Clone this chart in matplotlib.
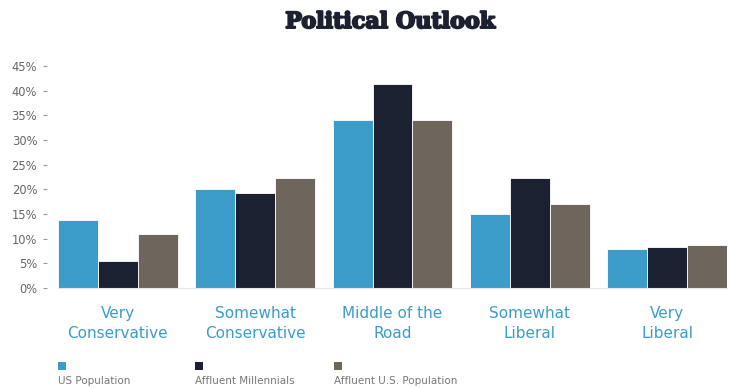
import matplotlib
matplotlib.use("Agg")
import matplotlib.pyplot as plt
from matplotlib.patches import Rectangle
import matplotlib.patheffects as pe
import numpy as np

categories = ["Very\nConservative", "Somewhat\nConservative", "Middle of the\nRoad",
              "Somewhat\nLiberal", "Very\nLiberal"]
series_names = ["US Population", "Affluent Millennials", "Affluent U.S. Population"]
us_population = [13.8, 20.1, 34.1, 15.0, 7.9]
affluent_millennials = [5.4, 19.3, 41.4, 22.2, 8.4]
affluent_us_population = [11.0, 22.2, 34.1, 17.0, 8.8]
yticks = [0, 5, 10, 15, 20, 25, 30, 35, 40, 45]
ytick_labels = ["0%", "5%", "10%", "15%", "20%", "25%", "30%", "35%", "40%", "45%"]

colors = ["#3b9cca", "#1b2130", "#6e655c"]

W, H = 730, 388
fig = plt.figure(figsize=(W / 100, H / 100), dpi=100)
ax = fig.add_axes([58 / W, 1 - 288 / H, (727 - 58) / W, (288 - 66) / H])

w = 0.29
x = np.arange(len(categories))
for i, (vals, c) in enumerate(zip([us_population, affluent_millennials, affluent_us_population], colors)):
    ax.bar(x + (i - 1) * w, vals, width=w, color=c, edgecolor="white", linewidth=0.6)

ax.set_xlim(-1.5 * w, len(categories) - 1 + 1.5 * w)
ax.set_ylim(0, 45)
ax.set_yticks(yticks)
ax.set_yticklabels(ytick_labels)
ax.set_xticks(x)
ax.set_xticklabels(categories, fontsize=11, color="#3b9cca", linespacing=1.45)
ax.tick_params(axis="x", length=0, pad=13)
ax.tick_params(axis="y", length=3, width=0.8, color="#999999", pad=4, direction="out",
               labelsize=8.3, labelcolor="#666666")
ax.spines["left"].set_position(("outward", 8))
for s in ["left", "top", "right"]:
    ax.spines[s].set_visible(False)
ax.spines["bottom"].set_color("#e6e6e6")
ax.spines["bottom"].set_linewidth(0.8)

fig.text(390 / W, 1 - 22 / H, "Political Outlook", ha="center", va="center",
         fontsize=16, fontweight="heavy", family="DejaVu Serif", color="#1b2130",
         path_effects=[pe.withStroke(linewidth=1.4, foreground="#1b2130")])

leg_x = [58, 195, 334]
for lx, name, c in zip(leg_x, series_names, colors):
    fig.add_artist(Rectangle((lx / W, 1 - 370 / H), 8 / W, 8 / H, transform=fig.transFigure,
                             color=c, lw=0))
    fig.text(lx / W, 1 - 381 / H, name, ha="left", va="center", fontsize=7.5, color="#777777")

fig.savefig("out.png", dpi=100)
